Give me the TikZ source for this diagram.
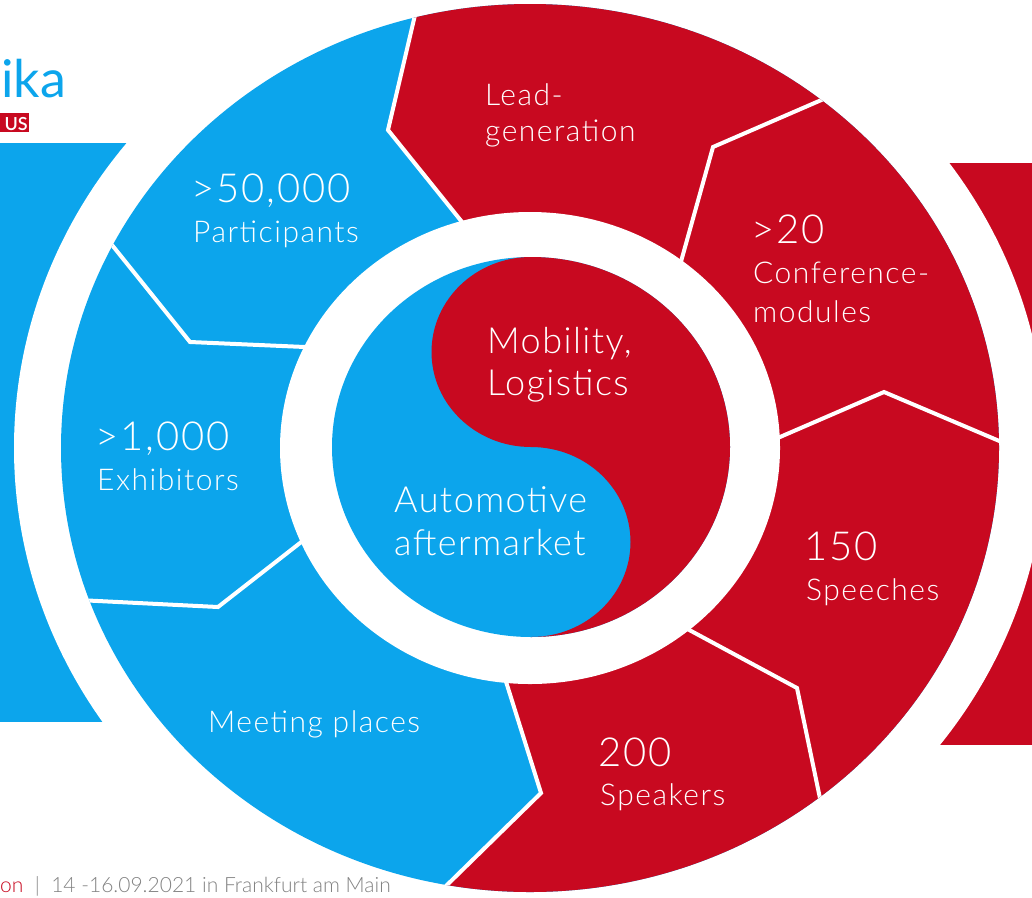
\documentclass[tikz,border=0pt]{standalone}
\usepackage{fontspec}
\IfFontExistsTF{Lato Light}{\def\fname{Lato Light}}{\def\fname{Lato}}
\setmainfont{\fname}
\newfontfamily\lsfive{\fname}[LetterSpace=5]
\newfontfamily\lsfour{\fname}[LetterSpace=4]
\newfontfamily\regfont{Lato}
\usetikzlibrary{calc}
\definecolor{fblue}{RGB}{12,165,236}
\definecolor{fred}{RGB}{200,9,32}
\definecolor{fgray}{RGB}{130,130,130}
\tikzset{
  num/.style={font=\lsfive\fontsize{40}{40}\selectfont, text=white, anchor=base west, inner sep=0pt},
  lbl/.style={font=\lsfive\fontsize{30}{30}\selectfont, text=white, anchor=base west, inner sep=0pt},
  ctr/.style={font=\lsfour\fontsize{36}{36}\selectfont, text=white, anchor=base west, inner sep=0pt},
  sep/.style={draw=white, line width=4pt, line join=miter},
}
\begin{document}
\begin{tikzpicture}[x=1pt,y=-1pt]
\useasboundingbox (0,0) rectangle (1032,897);
\clip (0,0) rectangle (1032,897);
% centre
\coordinate (C) at (530,448);
% side bands
\fill[fblue] (0,143) rectangle (200,722);
\fill[fred] (900,163) rectangle (1040,745);
\fill[white] (C) ellipse [x radius=516pt, y radius=489pt];
% ring
\fill[fblue] (C) ellipse [x radius=469pt, y radius=444pt];
% boundary points
\coordinate (O1) at (415,15);  \coordinate (K1) at (388,130); \coordinate (I1) at (462,222);
\coordinate (O2) at (826,98);  \coordinate (K2) at (713,147); \coordinate (I2) at (682,258);
\coordinate (O3) at (997,440); \coordinate (K3) at (884,392); \coordinate (I3) at (780,437);
\coordinate (O4) at (822,808); \coordinate (K4) at (797,688); \coordinate (I4) at (693,632);
\coordinate (O5) at (448,884); \coordinate (K5) at (541,793); \coordinate (I5) at (508,688);
\coordinate (O6) at (78,600);  \coordinate (K6) at (218,607); \coordinate (I6) at (300,543);
\coordinate (O7) at (112,245); \coordinate (K7) at (190,342); \coordinate (I7) at (305,347);
\begin{scope}
  \clip (C) ellipse [x radius=469pt, y radius=444pt];
  \fill[fred] ($(K1)!1.5!(O1)$) -- (K1) -- ($(K1)!1.6!(I1)$) -- (C) -- ($(K5)!1.6!(I5)$) -- (K5) -- ($(K5)!1.5!(O5)$) -- (1100,1000) -- (1100,-100) -- cycle;
  \foreach \i in {1,...,7}{
    \draw[sep] ($(K\i)!1.3!(O\i)$) -- (K\i) -- ($(K\i)!1.3!(I\i)$);
  }
\end{scope}
\fill[white] (C) ellipse [x radius=250pt, y radius=236pt];
% yin-yang
\fill[fblue] (531,447) ellipse [x radius=199pt, y radius=190pt];
\fill[fred] (531,257) arc[start angle=90, end angle=-90, x radius=199pt, y radius=190pt]
  arc[start angle=-90, end angle=90, x radius=99.5pt, y radius=95pt]
  arc[start angle=-90, end angle=-270, x radius=99.5pt, y radius=95pt] -- cycle;
% texts
\node[num] (t1a) at (191,202) {>50,000};
\node[lbl] (t1b) at (193,242) {Participants};
\node[lbl] (t2a) at (485,105) {Lead-};
\node[lbl] (t2b) at (485,141) {generation};
\node[num] (t3a) at (751,243) {>20};
\node[lbl] (t3b) at (753,283) {Conference-};
\node[lbl] (t3c) at (753,322) {modules};
\node[num] (t4a) at (804,560) {150};
\node[lbl] (t4b) at (806,600) {Speeches};
\node[num] (t5a) at (598,766) {200};
\node[lbl] (t5b) at (600,805) {Speakers};
\node[lbl] (t6) at (208,732) {Meeting places};
\node[num] (t7a) at (95,450) {>1,000};
\node[lbl] (t7b) at (97,490) {Exhibitors};
\node[ctr] (m1) at (487,353) {Mobility,};
\node[ctr] (m2) at (487,395) {Logistics};
\node[ctr] (a1) at (394,512) {Automotive};
\node[ctr] (a2) at (394,555) {aftermarket};
% title
\node[font=\regfont\fontsize{52}{52}\selectfont, text=fblue, anchor=base west, inner sep=0pt] (ttl) at (1,97) {ika};
\fill[fred] (0,113) rectangle (29,132);
\node[font=\bfseries\fontsize{18}{18}\selectfont, text=white, anchor=base east, inner sep=0pt] (plus) at (28,130) {US};
% footer
\node[font=\fontsize{21}{21}\selectfont, anchor=base west, inner sep=0pt] (ft) at (0,892) {\textcolor{fred}{on}\textcolor{fgray}{\ \ |\ \ 14 -16.09.2021 in Frankfurt am Main}};
\end{tikzpicture}
\end{document}
